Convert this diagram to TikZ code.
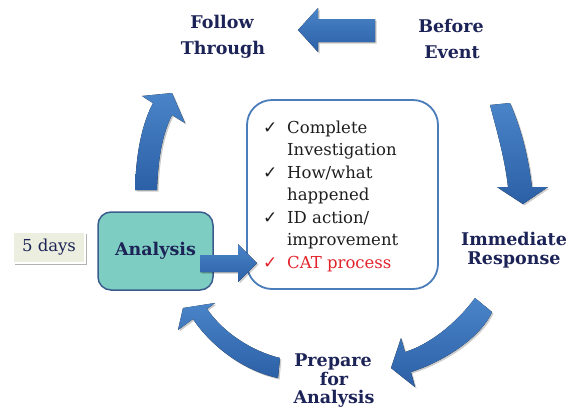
\documentclass[tikz,border=0pt]{standalone}
\usepackage{fontspec}
\setmainfont{DejaVu Serif}
\newfontfamily\symfont{DejaVu Sans}
\usetikzlibrary{shadows}
\definecolor{navy}{HTML}{1C2356}
\definecolor{arrowtop}{HTML}{4A84C8}
\definecolor{arrowbot}{HTML}{2C60A6}
\definecolor{teal}{HTML}{7ECDC2}
\definecolor{tealborder}{HTML}{3A5C8C}
\definecolor{boxblue}{HTML}{4A7DBA}
\definecolor{daysfill}{HTML}{ECEFDF}
\definecolor{catred}{HTML}{E3232B}
\definecolor{listtext}{HTML}{1E1E1E}
\begin{document}
\begin{tikzpicture}[x=1pt,y=-1pt,
  hd/.style={font=\fontsize{17.5}{20}\selectfont\bfseries, text=navy, inner sep=0pt, anchor=base},
  itemtext/.style={font=\fontsize{16.5}{20}\selectfont, text=listtext, inner sep=0pt, anchor=base west},
  checkmark/.style={font=\symfont\fontsize{17}{18}\selectfont, text=listtext, inner sep=0pt, anchor=base west},
  blockarrow/.style={top color=arrowtop, bottom color=arrowbot, draw=none,
    drop shadow={shadow xshift=1.5pt, shadow yshift=-1.5pt, opacity=0.2, fill=black}},
]
\useasboundingbox (0,0) rectangle (576,408);
\fill[white] (0,0) rectangle (576,408);

% headings
\node[hd] (ft1) at (222,28) {Follow};
\node[hd] (ft2) at (223,54) {Through};
\node[hd] (be1) at (451,32) {Before};
\node[hd] (be2) at (452,58) {Event};
\node[hd] (ir1) at (514,245) {Immediate};
\node[hd] (ir2) at (514,264) {Response};
\node[hd] (pa1) at (333,366) {Prepare};
\node[hd] (pa2) at (334,385) {for};
\node[hd] (pa3) at (334,403) {Analysis};

% straight arrow Before Event -> Follow Through
\fill[blockarrow] (298,30) -- (318,8) -- (318,19) -- (375,19) -- (375,42) -- (318,42) -- (318,52) -- cycle;

% top-right curved arrow
\fill[blockarrow] (490,105) .. controls (498,135) and (505,160) .. (508,187) -- (497,187) -- (523,204) -- (548,187) -- (532,187)
  .. controls (528,155) and (521,128) .. (510,103) -- cycle;

% bottom-right curved arrow
\fill[blockarrow] (475,298) .. controls (455,325) and (428,345) .. (405,352) -- (401,338) -- (391,368) -- (415,387) -- (411,372)
  .. controls (448,360) and (482,335) .. (492,312) -- cycle;

% bottom-left curved arrow
\fill[blockarrow] (280,358) .. controls (255,352) and (225,335) .. (207,309) -- (215,303) -- (183,308) -- (178,330) -- (193,319)
  .. controls (208,342) and (240,370) .. (278,378) -- cycle;

% top-left curved arrow
\fill[blockarrow] (135,190) .. controls (136,150) and (143,122) .. (153,103) -- (142,96) -- (172,93) -- (185,123) -- (172,115)
  .. controls (162,135) and (158,160) .. (157,190) -- cycle;

% 5 days box
\node[fill=daysfill, draw=white, line width=2pt, minimum width=72pt, minimum height=31pt, inner sep=0pt,
  drop shadow={shadow xshift=1.5pt, shadow yshift=-1.5pt, opacity=0.3, fill=black},
  font=\fontsize{16.5}{20}\selectfont, text=navy] (days) at (49,247.5) {5 days};

% Analysis box
\node[fill=teal, draw=tealborder, line width=1.5pt, rounded corners=13pt, minimum width=115pt, minimum height=78pt,
  inner sep=0pt, font=\fontsize{17.5}{20}\selectfont\bfseries, text=navy] (analysis) at (155.5,251) {Analysis};

% content box
\node[fill=white, draw=boxblue, line width=1.8pt, rounded corners=25pt, minimum width=191pt, minimum height=189pt,
  inner sep=0pt] (list) at (342.5,194.5) {};

% arrow from Analysis to list
\fill[blockarrow] (200,255) -- (238,255) -- (238,244) -- (257,263) -- (238,282) -- (238,272) -- (200,272) -- cycle;

% list items
\node[checkmark] (c1) at (263,133) {✓};
\node[itemtext] (t1) at (287,133) {Complete};
\node[itemtext] (t2) at (287,155.5) {Investigation};
\node[checkmark] (c2) at (263,178) {✓};
\node[itemtext] (t3) at (287,178) {How/what};
\node[itemtext] (t4) at (287,200.5) {happened};
\node[checkmark] (c3) at (263,223) {✓};
\node[itemtext] (t5) at (287,223) {ID action/};
\node[itemtext] (t6) at (287,245.5) {improvement};
\node[checkmark, text=catred] (c4) at (263,268) {✓};
\node[itemtext, text=catred] (t7) at (287,268) {CAT process};
\end{tikzpicture}
\end{document}
